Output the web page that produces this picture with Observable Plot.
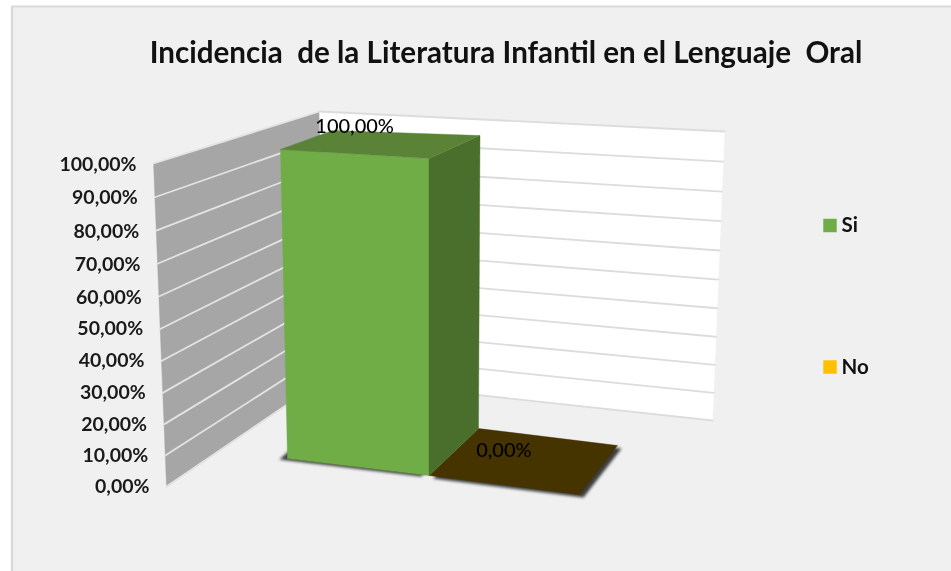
<!DOCTYPE html>
<html lang="es">
<head>
<meta charset="utf-8">
<script src="https://cdn.jsdelivr.net/npm/d3@7"></script>
<script src="https://cdn.jsdelivr.net/npm/@observablehq/plot@0.6"></script>
<style>
html,body{margin:0;padding:0;background:#fff}
svg{display:block;filter:blur(0.45px)}
svg text{white-space:pre}
</style>
</head>
<body>
<div id="chart"></div>
<script>
// ---- data ----
const title = "Incidencia  de la Literatura Infantil en el Lenguaje  Oral";
const categories = ["Si", "No"];
const values = [100, 0];
const valueLabels = ["100,00%", "0,00%"];
const ticks = [0, 10, 20, 30, 40, 50, 60, 70, 80, 90, 100];
const tickLabels = ["0,00%", "10,00%", "20,00%", "30,00%", "40,00%", "50,00%", "60,00%", "70,00%", "80,00%", "90,00%", "100,00%"];

// ---- styles ----
const seriesColor = ["#70ad47", "#ffc000"];
const sideColor = ["#4a6f2c", "#453300"];
const topColor = ["#5a8338", "#453300"];
const FONT = "Lato, Carlito, sans-serif";

// ---- projection of the 3-D box onto the page: [x, y] of corners at value 0 and value 100 ----
const FORESHORTEN = 1.05;
const wall = {
  frontLeft: {low: [166, 486], high: [153, 163]},
  backLeft: {low: [325, 378], high: [319, 111]},
  backRight: {low: [712, 420], high: [724, 131]}
};
const barBoxes = [
  {fl: {low: [287, 458], high: [280, 149]}, fr: {low: [428.5, 475], high: [428.5, 158]},
   br: {low: [478, 428], high: [479.5, 135]}, bl: {low: [338, 412], high: [332, 130]}},
  {fl: {low: [428.5, 475], high: [428.5, 158]}, fr: {low: [579, 494], high: [586, 168]},
   br: {low: [617, 445], high: [628, 142]}, bl: {low: [478, 428], high: [480, 135]}}
];
const shadowShift = [[-8, 1], [4, 3]];
const lerp = (a, b, t) => [a[0] + (b[0] - a[0]) * t, a[1] + (b[1] - a[1]) * t];
const depth = v => { const u = v / 100; return u / (u + FORESHORTEN * (1 - u)); };
const at = (edge, v) => lerp(edge.low, edge.high, depth(v));

const poly = (pts, fill, extra = {}) => Plot.line(pts, {
  x: d => d[0], y: d => d[1], fill, stroke: fill, strokeWidth: 0.4, curve: "linear-closed", ...extra
});
const seg = (a, b, stroke, strokeWidth) => Plot.line([a, b], {
  x: d => d[0], y: d => d[1], stroke, strokeWidth
});

const marks = [];
// chart area
marks.push(Plot.rect([{x1: 11, x2: 951, y1: 6, y2: 571}], {x1: "x1", x2: "x2", y1: "y1", y2: "y2", fill: "#f0f0f0"}));
marks.push(Plot.ruleX([11.5], {y1: 6, y2: 571, stroke: "#d9d9d9", strokeWidth: 2.4}));
marks.push(Plot.ruleY([6], {x1: 11, x2: 951, stroke: "#d9d9d9", strokeWidth: 2}));

// walls
marks.push(poly([at(wall.frontLeft, 0), at(wall.frontLeft, 100), at(wall.backLeft, 100), at(wall.backLeft, 0)], "#a6a6a6"));
marks.push(poly([at(wall.backLeft, 0), at(wall.backLeft, 100), at(wall.backRight, 100), at(wall.backRight, 0)], "#ffffff"));
for (const t of ticks) {
  marks.push(seg(at(wall.frontLeft, t), at(wall.backLeft, t), "#e3e3e3", 1.8));
  marks.push(seg(at(wall.backLeft, t), at(wall.backRight, t), "#dcdcdc", 1.8));
}

// shadows under the bars
categories.forEach((_, i) => {
  const b = barBoxes[i], [sx, sy] = shadowShift[i];
  marks.push(poly([b.fl, b.fr, b.br, b.bl].map(e => [e.low[0] + sx, e.low[1] + sy]), "#000000",
    {imageFilter: "blur(1.8px)", fillOpacity: 0.75, strokeOpacity: 0}));
});
// bars, back to front
categories.map((_, i) => i).reverse().forEach(i => {
  const b = barBoxes[i], v = values[i];
  if (v > 0) {
    marks.push(poly([at(b.fl, 0), at(b.fl, v), at(b.fr, v), at(b.fr, 0)], seriesColor[i]));
    marks.push(poly([at(b.fr, 0), at(b.fr, v), at(b.br, v), at(b.br, 0)], sideColor[i]));
  }
  marks.push(poly([at(b.fl, v), at(b.fr, v), at(b.br, v), at(b.bl, v)], topColor[i]));
});

// axis labels, next to the front edge of the side wall
marks.push(Plot.text(ticks, {
  x: t => at(wall.frontLeft, t)[0] - 17,
  y: t => at(wall.frontLeft, t)[1] + (t > 50 ? 1 : 0),
  text: (t, i) => tickLabels[i],
  textAnchor: "end", lineAnchor: "middle", fontFamily: FONT, fontWeight: 700, fontSize: 19.5, fill: "#1a1a1a"
}));

// data labels
const labelOffset = [[0, -5], [-14, -6]];
const labelPos = i => { const b = barBoxes[i], v = values[i];
  const c = [b.fl, b.fr, b.br, b.bl].map(e => at(e, v));
  return i === 0 ? lerp(c[3], c[2], 0.15) : lerp(lerp(c[0], c[2], 0.5), c[3], 0.12); };
marks.push(Plot.text(categories, {
  x: (_, i) => labelPos(i)[0] + labelOffset[i][0],
  y: (_, i) => labelPos(i)[1] + labelOffset[i][1],
  text: (_, i) => valueLabels[i],
  textAnchor: "middle", lineAnchor: "middle", fontFamily: FONT, fontWeight: 500, fontSize: 20, fill: "#000000"
}));

// title
marks.push(Plot.text([title], {
  x: () => 505.5, y: () => 53, text: d => d,
  textAnchor: "middle", lineAnchor: "middle", fontFamily: FONT, fontWeight: 700, fontSize: 29.6, fill: "#111111"
}));

// legend
const legendY = [225, 366.5];
marks.push(Plot.dot(categories, {
  x: () => 829.5, y: (_, i) => legendY[i], symbol: "square", r: 7.6,
  fill: (_, i) => seriesColor[i], stroke: "none"
}));
marks.push(Plot.text(categories, {
  x: () => 841, y: (_, i) => legendY[i], text: d => d,
  textAnchor: "start", lineAnchor: "middle", fontFamily: FONT, fontWeight: 700, fontSize: 20.5, fill: "#111111"
}));

document.getElementById("chart").append(Plot.plot({
  width: 951, height: 571,
  marginTop: 0, marginRight: 0, marginBottom: 0, marginLeft: 0,
  x: {domain: [0, 951], range: [0, 951], axis: null},
  y: {domain: [0, 571], range: [0, 571], axis: null},
  color: {type: "identity"},
  symbol: {type: "identity"},
  marks
}));
</script>
</body>
</html>
